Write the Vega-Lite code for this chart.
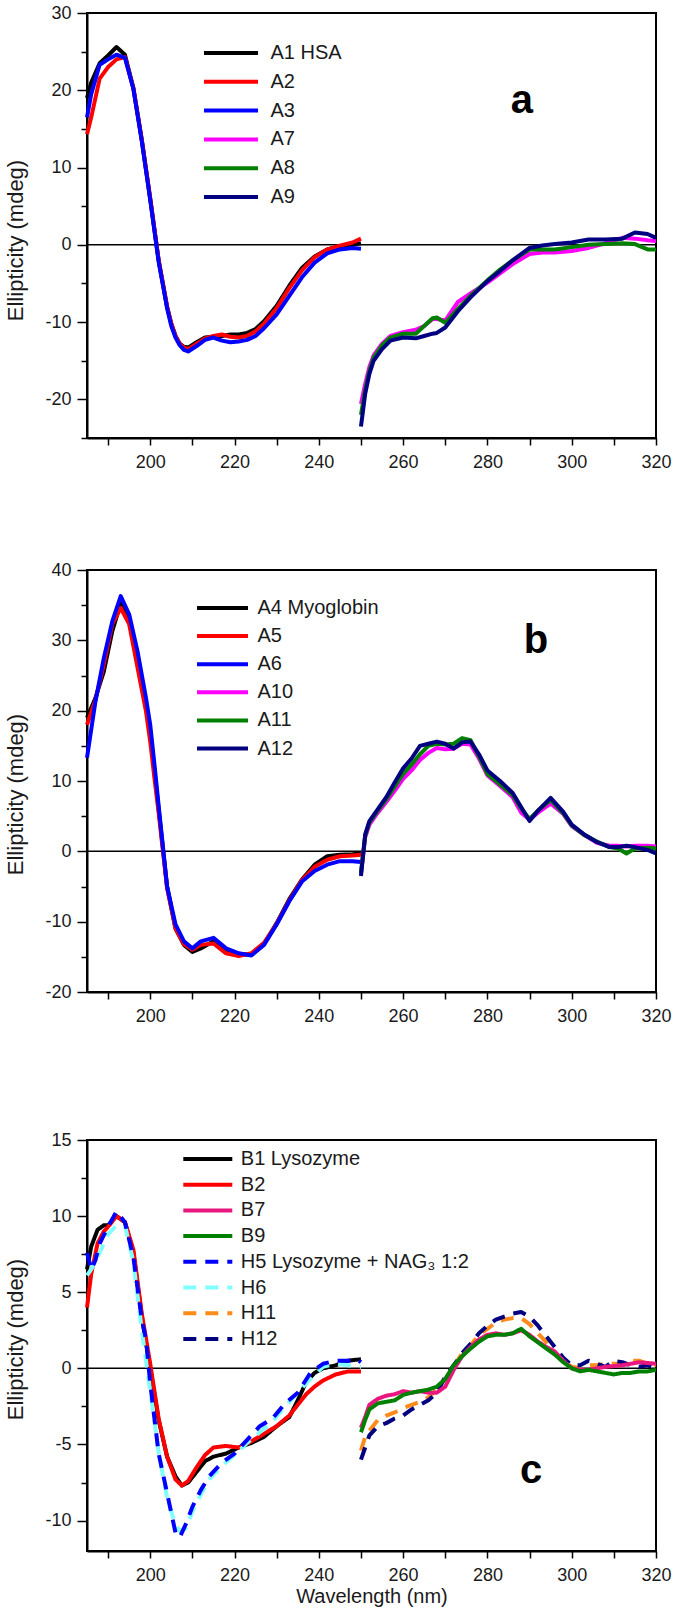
{
  "$schema": "https://vega.github.io/schema/vega-lite/v6.json",
  "padding": {"left": 3, "top": 3, "right": 0, "bottom": 0},
  "bounds": "flush",
  "spacing": 60,
  "config": {
    "font": "Liberation Sans",
    "view": {"stroke": "black", "strokeWidth": 2},
    "axis": {"domainColor": "black", "domainWidth": 2, "tickColor": "black", "tickWidth": 1.5, "labelFont": "Liberation Sans", "labelFontSize": 18, "labelColor": "#1a1a1a", "titleFont": "Liberation Sans", "titleFontSize": 22, "titleFontWeight": "normal", "titleColor": "#1a1a1a", "grid": false, "labelFlush": false, "labelOverlap": false, "tickCount": 40},
    "legend": {"labelFont": "Liberation Sans", "labelFontSize": 20, "labelColor": "#1a1a1a", "padding": 0, "labelLimit": 500, "symbolStrokeWidth": 4}
  },
  "datasets": {
    "a": [
      {"s":"A1 HSA","w":185,"e":19},{"s":"A1 HSA","w":186,"e":21},{"s":"A1 HSA","w":188,"e":23.5},{"s":"A1 HSA","w":190,"e":24.5},{"s":"A1 HSA","w":192,"e":25.6},{"s":"A1 HSA","w":194,"e":24.6},{"s":"A1 HSA","w":196,"e":20.3},{"s":"A1 HSA","w":198,"e":13.6},{"s":"A1 HSA","w":200,"e":6},{"s":"A1 HSA","w":202,"e":-2},{"s":"A1 HSA","w":203,"e":-5},{"s":"A1 HSA","w":204,"e":-8},{"s":"A1 HSA","w":205,"e":-10.2},{"s":"A1 HSA","w":206,"e":-11.8},{"s":"A1 HSA","w":207,"e":-12.8},{"s":"A1 HSA","w":208,"e":-13.2},{"s":"A1 HSA","w":209,"e":-13.3},{"s":"A1 HSA","w":211,"e":-12.6},{"s":"A1 HSA","w":213,"e":-12},{"s":"A1 HSA","w":215,"e":-11.9},{"s":"A1 HSA","w":217,"e":-11.8},{"s":"A1 HSA","w":219,"e":-11.6},{"s":"A1 HSA","w":221,"e":-11.6},{"s":"A1 HSA","w":223,"e":-11.4},{"s":"A1 HSA","w":225,"e":-10.9},{"s":"A1 HSA","w":227,"e":-9.9},{"s":"A1 HSA","w":230,"e":-7.9},{"s":"A1 HSA","w":233,"e":-5.3},{"s":"A1 HSA","w":236,"e":-3},{"s":"A1 HSA","w":239,"e":-1.5},{"s":"A1 HSA","w":242,"e":-0.6},{"s":"A1 HSA","w":245,"e":-0.2},{"s":"A1 HSA","w":248,"e":0},{"s":"A1 HSA","w":250,"e":0.2},
      {"s":"A2","w":185,"e":14.3},{"s":"A2","w":186,"e":16.5},{"s":"A2","w":188,"e":21.5},{"s":"A2","w":190,"e":23},{"s":"A2","w":192,"e":24},{"s":"A2","w":194,"e":24.3},{"s":"A2","w":196,"e":20.3},{"s":"A2","w":198,"e":13.6},{"s":"A2","w":200,"e":6},{"s":"A2","w":202,"e":-2},{"s":"A2","w":203,"e":-5},{"s":"A2","w":204,"e":-8},{"s":"A2","w":205,"e":-10.2},{"s":"A2","w":206,"e":-11.8},{"s":"A2","w":207,"e":-12.8},{"s":"A2","w":208,"e":-13.3},{"s":"A2","w":209,"e":-13.5},{"s":"A2","w":211,"e":-12.8},{"s":"A2","w":213,"e":-12.1},{"s":"A2","w":215,"e":-11.8},{"s":"A2","w":217,"e":-11.6},{"s":"A2","w":219,"e":-11.9},{"s":"A2","w":221,"e":-12},{"s":"A2","w":223,"e":-11.8},{"s":"A2","w":225,"e":-11.2},{"s":"A2","w":227,"e":-10.2},{"s":"A2","w":230,"e":-8.2},{"s":"A2","w":233,"e":-5.6},{"s":"A2","w":236,"e":-3.3},{"s":"A2","w":239,"e":-1.6},{"s":"A2","w":242,"e":-0.6},{"s":"A2","w":245,"e":-0.1},{"s":"A2","w":248,"e":0.3},{"s":"A2","w":250,"e":0.8},
      {"s":"A3","w":185,"e":16.5},{"s":"A3","w":186,"e":19.5},{"s":"A3","w":188,"e":23.3},{"s":"A3","w":190,"e":24},{"s":"A3","w":192,"e":24.6},{"s":"A3","w":194,"e":24.2},{"s":"A3","w":196,"e":20.2},{"s":"A3","w":198,"e":13.4},{"s":"A3","w":200,"e":5.8},{"s":"A3","w":202,"e":-2.2},{"s":"A3","w":203,"e":-5.2},{"s":"A3","w":204,"e":-8.2},{"s":"A3","w":205,"e":-10.5},{"s":"A3","w":206,"e":-12},{"s":"A3","w":207,"e":-13},{"s":"A3","w":208,"e":-13.6},{"s":"A3","w":209,"e":-13.8},{"s":"A3","w":211,"e":-13.1},{"s":"A3","w":213,"e":-12.3},{"s":"A3","w":215,"e":-12},{"s":"A3","w":217,"e":-12.4},{"s":"A3","w":219,"e":-12.6},{"s":"A3","w":221,"e":-12.5},{"s":"A3","w":223,"e":-12.3},{"s":"A3","w":225,"e":-11.8},{"s":"A3","w":227,"e":-10.8},{"s":"A3","w":230,"e":-9},{"s":"A3","w":233,"e":-6.6},{"s":"A3","w":236,"e":-4.2},{"s":"A3","w":239,"e":-2.3},{"s":"A3","w":242,"e":-1.1},{"s":"A3","w":245,"e":-0.6},{"s":"A3","w":248,"e":-0.4},{"s":"A3","w":250,"e":-0.5},
      {"s":"A7","w":250,"e":-20.6},{"s":"A7","w":251,"e":-18},{"s":"A7","w":252,"e":-15.8},{"s":"A7","w":253,"e":-14.3},{"s":"A7","w":255,"e":-12.8},{"s":"A7","w":257,"e":-11.8},{"s":"A7","w":260,"e":-11.3},{"s":"A7","w":263,"e":-11},{"s":"A7","w":265,"e":-10.5},{"s":"A7","w":267,"e":-9.6},{"s":"A7","w":268,"e":-9.6},{"s":"A7","w":270,"e":-9.8},{"s":"A7","w":273,"e":-7.4},{"s":"A7","w":276,"e":-6.3},{"s":"A7","w":280,"e":-4.9},{"s":"A7","w":283,"e":-3.7},{"s":"A7","w":286,"e":-2.5},{"s":"A7","w":290,"e":-1.2},{"s":"A7","w":293,"e":-1},{"s":"A7","w":296,"e":-1},{"s":"A7","w":300,"e":-0.8},{"s":"A7","w":304,"e":-0.4},{"s":"A7","w":308,"e":0.2},{"s":"A7","w":312,"e":0.9},{"s":"A7","w":315,"e":0.8},{"s":"A7","w":318,"e":0.6},{"s":"A7","w":320,"e":0.5},
      {"s":"A8","w":250,"e":-22},{"s":"A8","w":251,"e":-18.8},{"s":"A8","w":252,"e":-16.3},{"s":"A8","w":253,"e":-14.6},{"s":"A8","w":255,"e":-13},{"s":"A8","w":257,"e":-12},{"s":"A8","w":260,"e":-11.5},{"s":"A8","w":263,"e":-11.5},{"s":"A8","w":265,"e":-10.5},{"s":"A8","w":267,"e":-9.5},{"s":"A8","w":268,"e":-9.4},{"s":"A8","w":270,"e":-10.1},{"s":"A8","w":273,"e":-8.3},{"s":"A8","w":276,"e":-6.6},{"s":"A8","w":280,"e":-4.6},{"s":"A8","w":283,"e":-3.2},{"s":"A8","w":286,"e":-2},{"s":"A8","w":290,"e":-0.6},{"s":"A8","w":293,"e":-0.6},{"s":"A8","w":296,"e":-0.6},{"s":"A8","w":300,"e":-0.3},{"s":"A8","w":304,"e":0},{"s":"A8","w":308,"e":0.1},{"s":"A8","w":312,"e":0.2},{"s":"A8","w":315,"e":0.1},{"s":"A8","w":318,"e":-0.6},{"s":"A8","w":320,"e":-0.6},
      {"s":"A9","w":250,"e":-23.5},{"s":"A9","w":251,"e":-19.3},{"s":"A9","w":252,"e":-16.7},{"s":"A9","w":253,"e":-15},{"s":"A9","w":255,"e":-13.5},{"s":"A9","w":257,"e":-12.4},{"s":"A9","w":260,"e":-12},{"s":"A9","w":263,"e":-12.1},{"s":"A9","w":265,"e":-11.8},{"s":"A9","w":267,"e":-11.5},{"s":"A9","w":268,"e":-11.4},{"s":"A9","w":270,"e":-10.7},{"s":"A9","w":273,"e":-8.6},{"s":"A9","w":276,"e":-6.8},{"s":"A9","w":280,"e":-4.7},{"s":"A9","w":283,"e":-3.4},{"s":"A9","w":286,"e":-2},{"s":"A9","w":290,"e":-0.4},{"s":"A9","w":293,"e":-0.1},{"s":"A9","w":296,"e":0.1},{"s":"A9","w":300,"e":0.3},{"s":"A9","w":304,"e":0.7},{"s":"A9","w":308,"e":0.7},{"s":"A9","w":312,"e":0.8},{"s":"A9","w":315,"e":1.6},{"s":"A9","w":318,"e":1.4},{"s":"A9","w":320,"e":0.9}
    ],
    "b": [
      {"s":"A4 Myoglobin","w":185,"e":19},{"s":"A4 Myoglobin","w":187,"e":21.8},{"s":"A4 Myoglobin","w":189,"e":25.6},{"s":"A4 Myoglobin","w":191,"e":31.3},{"s":"A4 Myoglobin","w":193,"e":35.3},{"s":"A4 Myoglobin","w":195,"e":33.2},{"s":"A4 Myoglobin","w":197,"e":27.2},{"s":"A4 Myoglobin","w":199,"e":21},{"s":"A4 Myoglobin","w":200,"e":17},{"s":"A4 Myoglobin","w":201,"e":11.5},{"s":"A4 Myoglobin","w":202,"e":6},{"s":"A4 Myoglobin","w":204,"e":-5},{"s":"A4 Myoglobin","w":206,"e":-11},{"s":"A4 Myoglobin","w":208,"e":-13.3},{"s":"A4 Myoglobin","w":210,"e":-14.3},{"s":"A4 Myoglobin","w":212,"e":-13.8},{"s":"A4 Myoglobin","w":215,"e":-12.8},{"s":"A4 Myoglobin","w":218,"e":-14},{"s":"A4 Myoglobin","w":221,"e":-14.6},{"s":"A4 Myoglobin","w":224,"e":-14.7},{"s":"A4 Myoglobin","w":227,"e":-13.2},{"s":"A4 Myoglobin","w":230,"e":-10.2},{"s":"A4 Myoglobin","w":233,"e":-6.8},{"s":"A4 Myoglobin","w":236,"e":-4},{"s":"A4 Myoglobin","w":239,"e":-1.9},{"s":"A4 Myoglobin","w":242,"e":-0.7},{"s":"A4 Myoglobin","w":245,"e":-0.5},{"s":"A4 Myoglobin","w":248,"e":-0.4},{"s":"A4 Myoglobin","w":250,"e":-0.3},
      {"s":"A5","w":185,"e":18},{"s":"A5","w":187,"e":21.5},{"s":"A5","w":189,"e":26.6},{"s":"A5","w":191,"e":32.3},{"s":"A5","w":193,"e":34.6},{"s":"A5","w":195,"e":32.3},{"s":"A5","w":197,"e":26.1},{"s":"A5","w":199,"e":19.9},{"s":"A5","w":200,"e":15.6},{"s":"A5","w":201,"e":10.4},{"s":"A5","w":202,"e":5.5},{"s":"A5","w":204,"e":-5.2},{"s":"A5","w":206,"e":-11},{"s":"A5","w":208,"e":-13.2},{"s":"A5","w":210,"e":-14},{"s":"A5","w":212,"e":-13.3},{"s":"A5","w":215,"e":-13.1},{"s":"A5","w":218,"e":-14.5},{"s":"A5","w":221,"e":-14.9},{"s":"A5","w":224,"e":-14.5},{"s":"A5","w":227,"e":-13},{"s":"A5","w":230,"e":-10.3},{"s":"A5","w":233,"e":-7},{"s":"A5","w":236,"e":-4.1},{"s":"A5","w":239,"e":-2.2},{"s":"A5","w":242,"e":-1.2},{"s":"A5","w":245,"e":-0.7},{"s":"A5","w":248,"e":-0.6},{"s":"A5","w":250,"e":-0.5},
      {"s":"A6","w":185,"e":13.3},{"s":"A6","w":187,"e":21.3},{"s":"A6","w":189,"e":27.5},{"s":"A6","w":191,"e":32.7},{"s":"A6","w":193,"e":36.3},{"s":"A6","w":195,"e":33.7},{"s":"A6","w":197,"e":28.4},{"s":"A6","w":199,"e":21.8},{"s":"A6","w":200,"e":18},{"s":"A6","w":201,"e":12.4},{"s":"A6","w":202,"e":6.5},{"s":"A6","w":204,"e":-5},{"s":"A6","w":206,"e":-10.4},{"s":"A6","w":208,"e":-12.8},{"s":"A6","w":210,"e":-13.8},{"s":"A6","w":212,"e":-12.8},{"s":"A6","w":215,"e":-12.3},{"s":"A6","w":218,"e":-13.8},{"s":"A6","w":221,"e":-14.5},{"s":"A6","w":224,"e":-14.8},{"s":"A6","w":227,"e":-13.3},{"s":"A6","w":230,"e":-10.4},{"s":"A6","w":233,"e":-7.1},{"s":"A6","w":236,"e":-4.3},{"s":"A6","w":239,"e":-2.8},{"s":"A6","w":242,"e":-1.9},{"s":"A6","w":245,"e":-1.4},{"s":"A6","w":248,"e":-1.4},{"s":"A6","w":250,"e":-1.5},
      {"s":"A10","w":250,"e":-3.2},{"s":"A10","w":251,"e":2},{"s":"A10","w":252,"e":3.8},{"s":"A10","w":254,"e":5.5},{"s":"A10","w":256,"e":7},{"s":"A10","w":258,"e":8.6},{"s":"A10","w":260,"e":10.3},{"s":"A10","w":262,"e":11.5},{"s":"A10","w":264,"e":13},{"s":"A10","w":266,"e":14},{"s":"A10","w":268,"e":14.7},{"s":"A10","w":270,"e":14.5},{"s":"A10","w":272,"e":14.6},{"s":"A10","w":274,"e":15.3},{"s":"A10","w":276,"e":15.2},{"s":"A10","w":278,"e":13.2},{"s":"A10","w":280,"e":10.8},{"s":"A10","w":283,"e":9.3},{"s":"A10","w":286,"e":7.7},{"s":"A10","w":288,"e":5.5},{"s":"A10","w":290,"e":4.5},{"s":"A10","w":292,"e":5.5},{"s":"A10","w":295,"e":6.8},{"s":"A10","w":298,"e":5.3},{"s":"A10","w":300,"e":3.6},{"s":"A10","w":303,"e":2.3},{"s":"A10","w":306,"e":1.2},{"s":"A10","w":309,"e":0.8},{"s":"A10","w":311,"e":0.8},{"s":"A10","w":313,"e":0.7},{"s":"A10","w":315,"e":0.8},{"s":"A10","w":318,"e":0.8},{"s":"A10","w":320,"e":0.7},
      {"s":"A11","w":250,"e":-3},{"s":"A11","w":251,"e":2.2},{"s":"A11","w":252,"e":4.1},{"s":"A11","w":254,"e":5.8},{"s":"A11","w":256,"e":7.4},{"s":"A11","w":258,"e":9.2},{"s":"A11","w":260,"e":11},{"s":"A11","w":262,"e":12.3},{"s":"A11","w":264,"e":13.8},{"s":"A11","w":266,"e":15},{"s":"A11","w":268,"e":15.3},{"s":"A11","w":270,"e":15.2},{"s":"A11","w":272,"e":15.3},{"s":"A11","w":274,"e":16.1},{"s":"A11","w":276,"e":15.8},{"s":"A11","w":278,"e":13.5},{"s":"A11","w":280,"e":11},{"s":"A11","w":283,"e":9.5},{"s":"A11","w":286,"e":8},{"s":"A11","w":288,"e":6.1},{"s":"A11","w":290,"e":4.6},{"s":"A11","w":292,"e":5.8},{"s":"A11","w":295,"e":7.3},{"s":"A11","w":298,"e":5.4},{"s":"A11","w":300,"e":3.7},{"s":"A11","w":303,"e":2.3},{"s":"A11","w":306,"e":1.4},{"s":"A11","w":309,"e":0.6},{"s":"A11","w":311,"e":0.4},{"s":"A11","w":313,"e":-0.3},{"s":"A11","w":315,"e":0.4},{"s":"A11","w":318,"e":0.5},{"s":"A11","w":320,"e":0.4},
      {"s":"A12","w":250,"e":-3.5},{"s":"A12","w":251,"e":2.4},{"s":"A12","w":252,"e":4.3},{"s":"A12","w":254,"e":6},{"s":"A12","w":256,"e":7.7},{"s":"A12","w":258,"e":9.8},{"s":"A12","w":260,"e":11.8},{"s":"A12","w":262,"e":13.2},{"s":"A12","w":264,"e":15},{"s":"A12","w":266,"e":15.3},{"s":"A12","w":268,"e":15.6},{"s":"A12","w":270,"e":15.3},{"s":"A12","w":272,"e":14.6},{"s":"A12","w":274,"e":15.5},{"s":"A12","w":276,"e":15.6},{"s":"A12","w":278,"e":13.8},{"s":"A12","w":280,"e":11.5},{"s":"A12","w":283,"e":10},{"s":"A12","w":286,"e":8.3},{"s":"A12","w":288,"e":6.3},{"s":"A12","w":290,"e":4.3},{"s":"A12","w":292,"e":5.8},{"s":"A12","w":295,"e":7.6},{"s":"A12","w":298,"e":5.6},{"s":"A12","w":300,"e":3.8},{"s":"A12","w":303,"e":2.4},{"s":"A12","w":306,"e":1.3},{"s":"A12","w":309,"e":0.6},{"s":"A12","w":311,"e":0.6},{"s":"A12","w":313,"e":0.8},{"s":"A12","w":315,"e":0.6},{"s":"A12","w":318,"e":0.2},{"s":"A12","w":320,"e":-0.3}
    ],
    "c": [
      {"s":"B1 Lysozyme","w":185,"e":6.5},{"s":"B1 Lysozyme","w":186,"e":8},{"s":"B1 Lysozyme","w":187.5,"e":9.1},{"s":"B1 Lysozyme","w":189,"e":9.4},{"s":"B1 Lysozyme","w":190,"e":9.4},{"s":"B1 Lysozyme","w":192,"e":10},{"s":"B1 Lysozyme","w":194,"e":9.6},{"s":"B1 Lysozyme","w":196,"e":7.6},{"s":"B1 Lysozyme","w":198,"e":3.4},{"s":"B1 Lysozyme","w":200,"e":0},{"s":"B1 Lysozyme","w":202,"e":-3.4},{"s":"B1 Lysozyme","w":204,"e":-5.8},{"s":"B1 Lysozyme","w":206,"e":-7.1},{"s":"B1 Lysozyme","w":207.5,"e":-7.7},{"s":"B1 Lysozyme","w":209,"e":-7.5},{"s":"B1 Lysozyme","w":211,"e":-6.8},{"s":"B1 Lysozyme","w":213,"e":-6.1},{"s":"B1 Lysozyme","w":215,"e":-5.8},{"s":"B1 Lysozyme","w":218,"e":-5.6},{"s":"B1 Lysozyme","w":221,"e":-5.2},{"s":"B1 Lysozyme","w":224,"e":-4.9},{"s":"B1 Lysozyme","w":227,"e":-4.5},{"s":"B1 Lysozyme","w":230,"e":-3.8},{"s":"B1 Lysozyme","w":233,"e":-3.2},{"s":"B1 Lysozyme","w":235,"e":-2.1},{"s":"B1 Lysozyme","w":237,"e":-0.9},{"s":"B1 Lysozyme","w":239,"e":-0.3},{"s":"B1 Lysozyme","w":241,"e":0},{"s":"B1 Lysozyme","w":244,"e":0.2},{"s":"B1 Lysozyme","w":247,"e":0.5},{"s":"B1 Lysozyme","w":250,"e":0.6},
      {"s":"B2","w":185,"e":4},{"s":"B2","w":186,"e":6.2},{"s":"B2","w":187.5,"e":8.2},{"s":"B2","w":189,"e":9},{"s":"B2","w":190,"e":9.3},{"s":"B2","w":192,"e":10},{"s":"B2","w":194,"e":9.6},{"s":"B2","w":196,"e":7.8},{"s":"B2","w":198,"e":3.6},{"s":"B2","w":200,"e":0.3},{"s":"B2","w":202,"e":-3.3},{"s":"B2","w":204,"e":-5.8},{"s":"B2","w":206,"e":-7.3},{"s":"B2","w":207.5,"e":-7.7},{"s":"B2","w":209,"e":-7.4},{"s":"B2","w":211,"e":-6.5},{"s":"B2","w":213,"e":-5.7},{"s":"B2","w":215,"e":-5.2},{"s":"B2","w":218,"e":-5.1},{"s":"B2","w":221,"e":-5.2},{"s":"B2","w":224,"e":-4.8},{"s":"B2","w":227,"e":-4.3},{"s":"B2","w":230,"e":-3.8},{"s":"B2","w":233,"e":-3.1},{"s":"B2","w":235,"e":-2.4},{"s":"B2","w":237,"e":-1.7},{"s":"B2","w":239,"e":-1.2},{"s":"B2","w":241,"e":-0.8},{"s":"B2","w":244,"e":-0.4},{"s":"B2","w":247,"e":-0.2},{"s":"B2","w":250,"e":-0.2},
      {"s":"H6","w":185,"e":6.1},{"s":"H6","w":186,"e":6.5},{"s":"H6","w":187,"e":7},{"s":"H6","w":188,"e":7.6},{"s":"H6","w":190,"e":8.8},{"s":"H6","w":192,"e":9.4},{"s":"H6","w":194,"e":9.4},{"s":"H6","w":196,"e":7},{"s":"H6","w":198,"e":2.5},{"s":"H6","w":199,"e":0.5},{"s":"H6","w":200,"e":-1.5},{"s":"H6","w":202,"e":-5.5},{"s":"H6","w":204,"e":-8.5},{"s":"H6","w":206,"e":-10.3},{"s":"H6","w":207,"e":-10.7},{"s":"H6","w":208.5,"e":-10.5},{"s":"H6","w":210,"e":-9.4},{"s":"H6","w":212,"e":-8.3},{"s":"H6","w":214,"e":-7.3},{"s":"H6","w":217,"e":-6.4},{"s":"H6","w":220,"e":-5.7},{"s":"H6","w":223,"e":-4.9},{"s":"H6","w":226,"e":-4.2},{"s":"H6","w":229,"e":-3.5},{"s":"H6","w":232,"e":-2.5},{"s":"H6","w":235,"e":-1.6},{"s":"H6","w":238,"e":-0.7},{"s":"H6","w":241,"e":0.1},{"s":"H6","w":244,"e":0.3},{"s":"H6","w":247,"e":0.2},{"s":"H6","w":249,"e":0.1},{"s":"H6","w":250,"e":0.1},
      {"s":"H5 Lysozyme + NAG₃ 1:2","w":185,"e":7.6},{"s":"H5 Lysozyme + NAG₃ 1:2","w":186,"e":6.5},{"s":"H5 Lysozyme + NAG₃ 1:2","w":187,"e":7.1},{"s":"H5 Lysozyme + NAG₃ 1:2","w":188,"e":8.2},{"s":"H5 Lysozyme + NAG₃ 1:2","w":190,"e":9.3},{"s":"H5 Lysozyme + NAG₃ 1:2","w":192,"e":10.3},{"s":"H5 Lysozyme + NAG₃ 1:2","w":194,"e":9.6},{"s":"H5 Lysozyme + NAG₃ 1:2","w":196,"e":7.3},{"s":"H5 Lysozyme + NAG₃ 1:2","w":198,"e":3.2},{"s":"H5 Lysozyme + NAG₃ 1:2","w":199,"e":1.9},{"s":"H5 Lysozyme + NAG₃ 1:2","w":200,"e":-1},{"s":"H5 Lysozyme + NAG₃ 1:2","w":202,"e":-5.6},{"s":"H5 Lysozyme + NAG₃ 1:2","w":204,"e":-8.2},{"s":"H5 Lysozyme + NAG₃ 1:2","w":206,"e":-10.8},{"s":"H5 Lysozyme + NAG₃ 1:2","w":207,"e":-11.1},{"s":"H5 Lysozyme + NAG₃ 1:2","w":208.5,"e":-10.2},{"s":"H5 Lysozyme + NAG₃ 1:2","w":210,"e":-9.1},{"s":"H5 Lysozyme + NAG₃ 1:2","w":212,"e":-8},{"s":"H5 Lysozyme + NAG₃ 1:2","w":214,"e":-7.1},{"s":"H5 Lysozyme + NAG₃ 1:2","w":217,"e":-6.2},{"s":"H5 Lysozyme + NAG₃ 1:2","w":220,"e":-5.6},{"s":"H5 Lysozyme + NAG₃ 1:2","w":223,"e":-4.7},{"s":"H5 Lysozyme + NAG₃ 1:2","w":226,"e":-3.8},{"s":"H5 Lysozyme + NAG₃ 1:2","w":229,"e":-3.3},{"s":"H5 Lysozyme + NAG₃ 1:2","w":232,"e":-2.3},{"s":"H5 Lysozyme + NAG₃ 1:2","w":235,"e":-1.6},{"s":"H5 Lysozyme + NAG₃ 1:2","w":238,"e":-0.3},{"s":"H5 Lysozyme + NAG₃ 1:2","w":241,"e":0.3},{"s":"H5 Lysozyme + NAG₃ 1:2","w":244,"e":0.5},{"s":"H5 Lysozyme + NAG₃ 1:2","w":247,"e":0.5},{"s":"H5 Lysozyme + NAG₃ 1:2","w":249,"e":0.6},{"s":"H5 Lysozyme + NAG₃ 1:2","w":250,"e":0.4},
      {"s":"H11","w":250,"e":-5.4},{"s":"H11","w":251,"e":-4.5},{"s":"H11","w":252,"e":-4.1},{"s":"H11","w":254,"e":-3.4},{"s":"H11","w":256,"e":-3.1},{"s":"H11","w":258,"e":-2.9},{"s":"H11","w":260,"e":-2.6},{"s":"H11","w":262,"e":-2.4},{"s":"H11","w":264,"e":-2.2},{"s":"H11","w":266,"e":-1.9},{"s":"H11","w":268,"e":-1.4},{"s":"H11","w":270,"e":-0.7},{"s":"H11","w":272,"e":0.1},{"s":"H11","w":274,"e":1},{"s":"H11","w":276,"e":1.5},{"s":"H11","w":278,"e":2.2},{"s":"H11","w":280,"e":2.6},{"s":"H11","w":282,"e":3},{"s":"H11","w":284,"e":3.2},{"s":"H11","w":286,"e":3.3},{"s":"H11","w":288,"e":3.3},{"s":"H11","w":290,"e":2.9},{"s":"H11","w":292,"e":2.3},{"s":"H11","w":294,"e":1.7},{"s":"H11","w":296,"e":1},{"s":"H11","w":298,"e":0.5},{"s":"H11","w":300,"e":0.1},{"s":"H11","w":302,"e":0},{"s":"H11","w":304,"e":0.2},{"s":"H11","w":306,"e":0.2},{"s":"H11","w":308,"e":0.3},{"s":"H11","w":310,"e":0.3},{"s":"H11","w":312,"e":0.3},{"s":"H11","w":314,"e":0.5},{"s":"H11","w":316,"e":0.5},{"s":"H11","w":318,"e":0.3},{"s":"H11","w":320,"e":0.2},
      {"s":"H12","w":250,"e":-6},{"s":"H12","w":251,"e":-5.2},{"s":"H12","w":252,"e":-4.4},{"s":"H12","w":254,"e":-3.8},{"s":"H12","w":256,"e":-3.6},{"s":"H12","w":258,"e":-3.3},{"s":"H12","w":260,"e":-3.1},{"s":"H12","w":262,"e":-2.7},{"s":"H12","w":264,"e":-2.4},{"s":"H12","w":266,"e":-2.1},{"s":"H12","w":268,"e":-1.6},{"s":"H12","w":270,"e":-0.55},{"s":"H12","w":272,"e":0.2},{"s":"H12","w":274,"e":1},{"s":"H12","w":276,"e":1.6},{"s":"H12","w":278,"e":2.3},{"s":"H12","w":280,"e":2.8},{"s":"H12","w":282,"e":3.2},{"s":"H12","w":284,"e":3.4},{"s":"H12","w":286,"e":3.6},{"s":"H12","w":288,"e":3.7},{"s":"H12","w":290,"e":3.4},{"s":"H12","w":292,"e":2.8},{"s":"H12","w":294,"e":2.1},{"s":"H12","w":296,"e":1.4},{"s":"H12","w":298,"e":0.7},{"s":"H12","w":300,"e":0.2},{"s":"H12","w":302,"e":0.2},{"s":"H12","w":304,"e":0.5},{"s":"H12","w":306,"e":0.3},{"s":"H12","w":308,"e":0.1},{"s":"H12","w":310,"e":0.5},{"s":"H12","w":312,"e":0.4},{"s":"H12","w":314,"e":0.2},{"s":"H12","w":316,"e":0.1},{"s":"H12","w":318,"e":0.2},{"s":"H12","w":320,"e":0},
      {"s":"B7","w":250,"e":-3.9},{"s":"B7","w":251,"e":-3.2},{"s":"B7","w":252,"e":-2.4},{"s":"B7","w":254,"e":-2},{"s":"B7","w":256,"e":-1.8},{"s":"B7","w":258,"e":-1.7},{"s":"B7","w":260,"e":-1.5},{"s":"B7","w":262,"e":-1.6},{"s":"B7","w":264,"e":-1.5},{"s":"B7","w":266,"e":-1.6},{"s":"B7","w":268,"e":-1.6},{"s":"B7","w":270,"e":-1.2},{"s":"B7","w":272,"e":-0.1},{"s":"B7","w":274,"e":0.8},{"s":"B7","w":276,"e":1.4},{"s":"B7","w":278,"e":1.9},{"s":"B7","w":280,"e":2.2},{"s":"B7","w":282,"e":2.3},{"s":"B7","w":284,"e":2.2},{"s":"B7","w":286,"e":2.3},{"s":"B7","w":288,"e":2.5},{"s":"B7","w":290,"e":2.2},{"s":"B7","w":292,"e":1.75},{"s":"B7","w":294,"e":1.4},{"s":"B7","w":296,"e":1.1},{"s":"B7","w":298,"e":0.5},{"s":"B7","w":300,"e":0},{"s":"B7","w":302,"e":-0.1},{"s":"B7","w":304,"e":-0.1},{"s":"B7","w":306,"e":0},{"s":"B7","w":308,"e":0.1},{"s":"B7","w":310,"e":0.15},{"s":"B7","w":312,"e":0.2},{"s":"B7","w":314,"e":0.3},{"s":"B7","w":316,"e":0.4},{"s":"B7","w":318,"e":0.35},{"s":"B7","w":320,"e":0.3},
      {"s":"B9","w":250,"e":-4.2},{"s":"B9","w":251,"e":-3.4},{"s":"B9","w":252,"e":-2.7},{"s":"B9","w":254,"e":-2.3},{"s":"B9","w":256,"e":-2.2},{"s":"B9","w":258,"e":-2.1},{"s":"B9","w":260,"e":-1.75},{"s":"B9","w":262,"e":-1.6},{"s":"B9","w":264,"e":-1.5},{"s":"B9","w":266,"e":-1.4},{"s":"B9","w":268,"e":-1.2},{"s":"B9","w":270,"e":-0.7},{"s":"B9","w":272,"e":0.2},{"s":"B9","w":274,"e":0.8},{"s":"B9","w":276,"e":1.3},{"s":"B9","w":278,"e":1.75},{"s":"B9","w":280,"e":2.1},{"s":"B9","w":282,"e":2.2},{"s":"B9","w":284,"e":2.2},{"s":"B9","w":286,"e":2.3},{"s":"B9","w":288,"e":2.6},{"s":"B9","w":290,"e":2.1},{"s":"B9","w":292,"e":1.7},{"s":"B9","w":294,"e":1.3},{"s":"B9","w":296,"e":0.9},{"s":"B9","w":298,"e":0.4},{"s":"B9","w":300,"e":0},{"s":"B9","w":302,"e":-0.2},{"s":"B9","w":304,"e":-0.1},{"s":"B9","w":306,"e":-0.2},{"s":"B9","w":308,"e":-0.3},{"s":"B9","w":310,"e":-0.4},{"s":"B9","w":312,"e":-0.3},{"s":"B9","w":314,"e":-0.3},{"s":"B9","w":316,"e":-0.2},{"s":"B9","w":318,"e":-0.2},{"s":"B9","w":320,"e":-0.1}
    ]
  },
  "vconcat": [
    {
      "width": 569, "height": 425,
      "layer": [
        {"data": {"values": [{}]}, "mark": {"type": "rule", "color": "black", "strokeWidth": 1.5}, "encoding": {"y": {"datum": 0}}},
        {
          "data": {"name": "a"},
          "mark": {"type": "line", "strokeWidth": 4, "strokeJoin": "round"},
          "encoding": {
            "x": {"field": "w", "type": "quantitative", "scale": {"domain": [185, 320], "nice": false, "zero": false},
                  "axis": {"title": null, "values": [190,200,210,220,230,240,250,260,270,280,290,300,310,320], "labelExpr": "datum.value % 20 === 0 ? '' + datum.value : ''", "tickSize": 7, "labelPadding": 8, "tickCount": 40}},
            "y": {"field": "e", "type": "quantitative", "scale": {"domain": [-25, 30], "nice": false, "zero": false},
                  "axis": {"title": "Ellipticity (mdeg)", "values": [-25,-20,-15,-10,-5,0,5,10,15,20,25,30], "labelExpr": "datum.value % 10 === 0 ? '' + datum.value : ''", "tickSize": {"condition": {"test": "datum.value % 10 === 0", "value": 10}, "value": 6}, "labelPadding": 6, "tickCount": 40, "titleX": -65, "titleY": 227, "titleBaseline": "alphabetic", "titleAlign": "center"}},
            "color": {"field": "s", "type": "nominal",
                      "scale": {"domain": ["A1 HSA","A2","A3","A7","A8","A9"], "range": ["#000000","#ff0000","#0000ff","#ff00ff","#008000","#000080"]},
                      "legend": {"title": null, "orient": "none", "legendX": 117, "legendY": 30, "symbolType": "M-5,0H5", "symbolSize": 117, "symbolOffset": 17, "labelOffset": 29.5, "rowPadding": 8.8, "symbolStrokeWidth": 4}}
          }
        },
        {"data": {"values": [{}]}, "mark": {"type": "text", "font": "Liberation Sans", "fontSize": 40, "fontWeight": "bold", "align": "center", "baseline": "alphabetic", "color": "black"},
         "encoding": {"x": {"datum": 288.2}, "y": {"datum": 17.1}, "text": {"value": "a"}}}
      ]
    },
    {"width": 569, "height": 12, "view": {"stroke": null}, "data": {"values": []}, "mark": "point"},
    {
      "width": 569, "height": 422,
      "layer": [
        {"data": {"values": [{}]}, "mark": {"type": "rule", "color": "black", "strokeWidth": 1.5}, "encoding": {"y": {"datum": 0}}},
        {
          "data": {"name": "b"},
          "mark": {"type": "line", "strokeWidth": 4, "strokeJoin": "round"},
          "encoding": {
            "x": {"field": "w", "type": "quantitative", "scale": {"domain": [185, 320], "nice": false, "zero": false},
                  "axis": {"title": null, "values": [190,200,210,220,230,240,250,260,270,280,290,300,310,320], "labelExpr": "datum.value % 20 === 0 ? '' + datum.value : ''", "tickSize": 7, "labelPadding": 8, "tickCount": 40}},
            "y": {"field": "e", "type": "quantitative", "scale": {"domain": [-20, 40], "nice": false, "zero": false},
                  "axis": {"title": "Ellipticity (mdeg)", "values": [-20,-15,-10,-5,0,5,10,15,20,25,30,35,40], "labelExpr": "datum.value % 10 === 0 ? '' + datum.value : ''", "tickSize": {"condition": {"test": "datum.value % 10 === 0", "value": 10}, "value": 6}, "labelPadding": 6, "tickCount": 40, "titleX": -65, "titleY": 224, "titleBaseline": "alphabetic", "titleAlign": "center"}},
            "color": {"field": "s", "type": "nominal",
                      "scale": {"domain": ["A4 Myoglobin","A5","A6","A10","A11","A12"], "range": ["#000000","#ff0000","#0000ff","#ff00ff","#008000","#000080"]},
                      "legend": {"title": null, "orient": "none", "legendX": 110, "legendY": 28, "symbolType": "M-5,0H5", "symbolSize": 104, "symbolOffset": 15.5, "labelOffset": 25, "rowPadding": 8.1, "symbolStrokeWidth": 4}}
          }
        },
        {"data": {"values": [{}]}, "mark": {"type": "text", "font": "Liberation Sans", "fontSize": 40, "fontWeight": "bold", "align": "center", "baseline": "alphabetic", "color": "black"},
         "encoding": {"x": {"datum": 291.5}, "y": {"datum": 28.2}, "text": {"value": "b"}}}
      ]
    },
    {"width": 569, "height": 27.4, "view": {"stroke": null}, "data": {"values": []}, "mark": "point"},
    {
      "width": 569, "height": 411,
      "layer": [
        {"data": {"values": [{}]}, "mark": {"type": "rule", "color": "black", "strokeWidth": 1.5}, "encoding": {"y": {"datum": 0}}},
        {
          "data": {"name": "c"},
          "mark": {"type": "line", "strokeWidth": 4, "strokeJoin": "round"},
          "encoding": {
            "x": {"field": "w", "type": "quantitative", "scale": {"domain": [185, 320], "nice": false, "zero": false},
                  "axis": {"title": "Wavelength (nm)", "values": [190,200,210,220,230,240,250,260,270,280,290,300,310,320], "labelExpr": "datum.value % 20 === 0 ? '' + datum.value : ''", "tickSize": 7, "labelPadding": 8, "tickCount": 40, "titleY": 51, "titleBaseline": "alphabetic", "titleFontSize": 20}},
            "y": {"field": "e", "type": "quantitative", "scale": {"domain": [-12, 15], "nice": false, "zero": false},
                  "axis": {"title": "Ellipticity (mdeg)", "values": [-10,-7.5,-5,-2.5,0,2.5,5,7.5,10,12.5,15], "labelExpr": "datum.value % 5 === 0 ? '' + datum.value : ''", "tickSize": {"condition": {"test": "datum.value % 5 === 0", "value": 10}, "value": 6}, "labelPadding": 6, "tickCount": 40, "titleX": -65, "titleY": 199, "titleBaseline": "alphabetic", "titleAlign": "center"}},
            "color": {"field": "s", "type": "nominal",
                      "scale": {"domain": ["B1 Lysozyme","B2","B7","B9","H5 Lysozyme + NAG₃ 1:2","H6","H11","H12"], "range": ["#000000","#ff0000","#e8177f","#008000","#0000ff","#80ffff","#ff8c1a","#000080"]},
                      "legend": {"title": null, "orient": "none", "legendX": 96.3, "legendY": 9, "symbolType": "M-5,0H5", "symbolSize": 96, "symbolOffset": 14.5, "labelOffset": 23, "rowPadding": 5.7, "symbolStrokeWidth": 4}},
            "strokeDash": {"field": "s", "type": "nominal",
                      "scale": {"domain": ["B1 Lysozyme","B2","B7","B9","H5 Lysozyme + NAG₃ 1:2","H6","H11","H12"], "range": [[1,0],[1,0],[1,0],[1,0],[13,9],[13,9],[13,9],[13,9]]},
                      "legend": {"title": null, "orient": "none", "legendX": 96.3, "legendY": 9, "symbolType": "M-5,0H5", "symbolSize": 96, "symbolOffset": 14.5, "labelOffset": 23, "rowPadding": 5.7, "symbolStrokeWidth": 4}}
          }
        },
        {"data": {"values": [{}]}, "mark": {"type": "text", "font": "Liberation Sans", "fontSize": 40, "fontWeight": "bold", "align": "center", "baseline": "alphabetic", "color": "black"},
         "encoding": {"x": {"datum": 290.4}, "y": {"datum": -7.5}, "text": {"value": "c"}}}
      ]
    }
  ],
  "resolve": {"scale": {"x": "independent", "y": "independent", "color": "independent", "strokeDash": "independent"}, "legend": {"color": "independent", "strokeDash": "independent"}}
}
